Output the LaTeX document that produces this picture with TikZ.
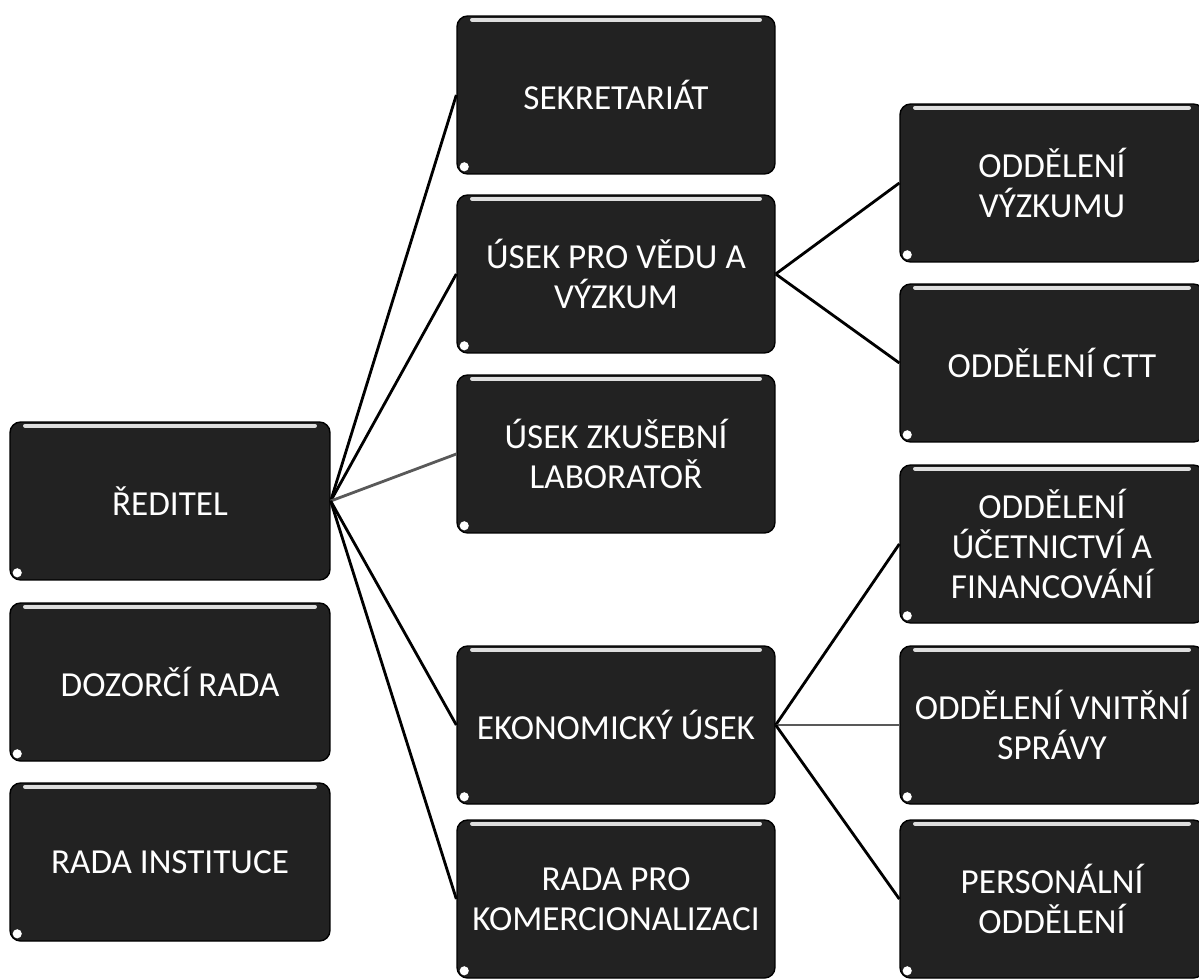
\documentclass[tikz,border=0pt]{standalone}
\usepackage{fontspec}
\setmainfont{Carlito}
\definecolor{boxfill}{HTML}{222222}
\tikzset{
  box/.style={draw=black, line width=0.8pt, rounded corners=6pt, fill=boxfill,
    text=white, font=\fontsize{20}{23}\selectfont, align=center, inner sep=0pt,
    minimum height=3.16cm},
  boxl/.style={box, minimum width=6.4cm},
  boxm/.style={box, minimum width=6.36cm},
  boxr/.style={box, minimum width=6.08cm},
  conn/.style={draw=black, line width=1.6pt},
  connlight/.style={draw=black!65, line width=1.6pt},
  shine/.style={draw=white, line width=2.4pt, line cap=round, opacity=0.85},
  dot/.style={fill=white}
}
\begin{document}
\begin{tikzpicture}[x=0.02cm, y=-0.02cm]
\useasboundingbox (0,0) rectangle (1199,978);
% left column
\node[boxl] (red)   at (170,501) {ŘEDITEL};
\node[boxl] (dozor) at (170,682) {DOZORČÍ RADA};
\node[boxl] (radai) at (170,862) {RADA INSTITUCE};
% middle column
\node[boxm] (sek)   at (616,95)  {SEKRETARIÁT};
\node[boxm] (veda)  at (616,274) {ÚSEK PRO VĚDU A\\VÝZKUM};
\node[boxm] (zkus)  at (616,454) {ÚSEK ZKUŠEBNÍ\\LABORATOŘ};
\node[boxm] (ekon)  at (616,725) {EKONOMICKÝ ÚSEK};
\node[boxm] (komer) at (616,899) {RADA PRO\\KOMERCIONALIZACI};
% right column
\node[boxr] (vyz)   at (1052,183) {ODDĚLENÍ\\VÝZKUMU};
\node[boxr] (ctt)   at (1052,363) {ODDĚLENÍ CTT};
\node[boxr] (ucet)  at (1052,544) {ODDĚLENÍ\\ÚČETNICTVÍ A\\FINANCOVÁNÍ};
\node[boxr] (vnit)  at (1052,725) {ODDĚLENÍ VNITŘNÍ\\SPRÁVY};
\node[boxr] (pers)  at (1052,899) {PERSONÁLNÍ\\ODDĚLENÍ};
% highlights
\foreach \n in {red,dozor,radai,sek,veda,zkus,ekon,komer,vyz,ctt,ucet,vnit,pers}{
  \draw[shine] ([xshift=9pt,yshift=-2.5pt]\n.north west) -- ([xshift=-9pt,yshift=-2.5pt]\n.north east);
  \fill[dot] ([xshift=4.5pt,yshift=4.5pt]\n.south west) circle (2.6pt);
}
% connectors
\draw[conn] (red.east) -- (sek.west);
\draw[conn] (red.east) -- (veda.west);
\draw[connlight] (red.east) -- (zkus.west);
\draw[conn] (red.east) -- (ekon.west);
\draw[conn] (red.east) -- (komer.west);
\draw[conn] (veda.east) -- (vyz.west);
\draw[conn] (veda.east) -- (ctt.west);
\draw[conn] (ekon.east) -- (ucet.west);
\draw[connlight] (ekon.east) -- (vnit.west);
\draw[conn] (ekon.east) -- (pers.west);
\end{tikzpicture}
\end{document}
